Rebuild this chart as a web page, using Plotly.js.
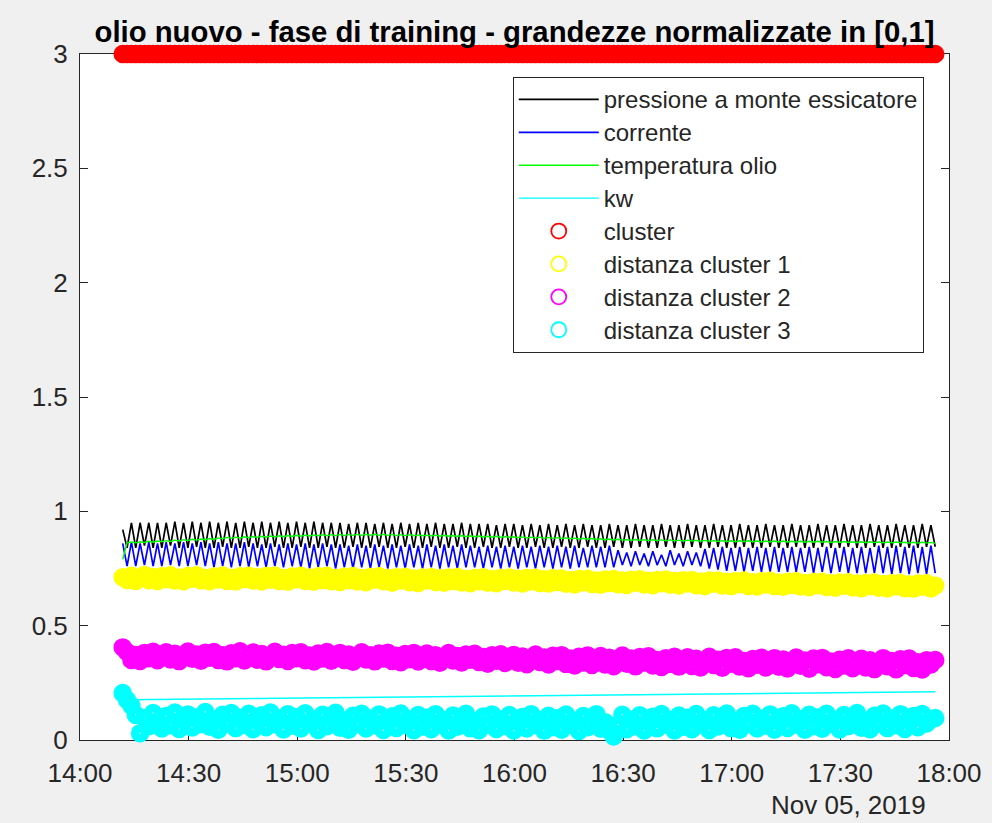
<!DOCTYPE html>
<html>
<head>
<meta charset="utf-8">
<script src="https://cdn.plot.ly/plotly-3.0.1.min.js"></script>
<style>html,body{margin:0;padding:0;background:#f0f0f0;}#chart{width:992px;height:823px;}</style>
</head>
<body>
<div id="chart"></div>
<script>
// sample times, minutes after 14:00 on Nov 05, 2019
const minutesAfter14 = [
11.8,13,14.2,15.4,16.6, 17.8,19,20.2,21.4,22.6,
23.8,25,26.2,27.4,28.6, 29.8,31,32.2,33.4,34.6,
35.8,37,38.2,39.4,40.6, 41.8,43,44.2,45.4,46.6,
47.8,49,50.2,51.4,52.6, 53.8,55,56.2,57.4,58.6,
59.8,61,62.2,63.4,64.6, 65.8,67,68.2,69.4,70.6,
71.8,73,74.2,75.4,76.6, 77.8,79,80.2,81.4,82.6,
83.8,85,86.2,87.4,88.6, 89.8,91,92.2,93.4,94.6,
95.8,97,98.2,99.4,100.6, 101.8,103,104.2,105.4,106.6,
107.8,109,110.2,111.4,112.6, 113.8,115,116.2,117.4,118.6,
119.8,121,122.2,123.4,124.6, 125.8,127,128.2,129.4,130.6,
131.8,133,134.2,135.4,136.6, 137.8,139,140.2,141.4,142.6,
143.8,145,146.2,147.4,148.6, 149.8,151,152.2,153.4,154.6,
155.8,157,158.2,159.4,160.6, 161.8,163,164.2,165.4,166.6,
167.8,169,170.2,171.4,172.6, 173.8,175,176.2,177.4,178.6,
179.8,181,182.2,183.4,184.6, 185.8,187,188.2,189.4,190.6,
191.8,193,194.2,195.4,196.6, 197.8,199,200.2,201.4,202.6,
203.8,205,206.2,207.4,208.6, 209.8,211,212.2,213.4,214.6,
215.8,217,218.2,219.4,220.6, 221.8,223,224.2,225.4,226.6,
227.8,229,230.2,231.4,232.6, 233.8,235,236.2
];

const pressione = [
0.92,0.84,0.95,0.84,0.95,0.85,0.95,0.84,0.95,0.84,
0.95,0.85,0.955,0.84,0.95,0.84,0.955,0.845,0.95,0.84,
0.955,0.84,0.95,0.845,0.955,0.84,0.95,0.84,0.955,0.845,
0.95,0.84,0.955,0.84,0.95,0.845,0.955,0.84,0.95,0.84,
0.955,0.845,0.95,0.84,0.955,0.84,0.95,0.845,0.95,0.84,
0.95,0.84,0.945,0.845,0.95,0.84,0.95,0.84,0.945,0.845,
0.95,0.84,0.945,0.84,0.95,0.845,0.945,0.84,0.95,0.84,
0.945,0.845,0.95,0.84,0.945,0.84,0.945,0.845,0.95,0.84,
0.945,0.84,0.945,0.845,0.945,0.84,0.94,0.84,0.945,0.845,
0.945,0.84,0.94,0.84,0.945,0.845,0.94,0.84,0.945,0.84,
0.94,0.845,0.945,0.84,0.94,0.84,0.945,0.845,0.94,0.84,
0.94,0.84,0.945,0.845,0.94,0.84,0.94,0.84,0.945,0.845,
0.94,0.84,0.94,0.84,0.945,0.845,0.94,0.84,0.94,0.84,
0.945,0.845,0.94,0.84,0.94,0.84,0.945,0.845,0.94,0.84,
0.94,0.84,0.945,0.845,0.94,0.84,0.94,0.84,0.945,0.845,
0.94,0.84,0.94,0.84,0.945,0.845,0.94,0.84,0.94,0.84,
0.945,0.845,0.94,0.84,0.94,0.84,0.945,0.845,0.94,0.84,
0.94,0.84,0.945,0.845,0.94,0.84,0.94,0.84,0.945,0.845,
0.94,0.84,0.94,0.84,0.945,0.845,0.94,0.845
];

const corrente = [
0.86,0.76,0.865,0.76,0.86,0.765,0.865,0.76,0.86,0.76,
0.865,0.765,0.86,0.76,0.865,0.76,0.86,0.765,0.865,0.76,
0.86,0.755,0.865,0.76,0.86,0.755,0.86,0.76,0.865,0.755,
0.86,0.76,0.855,0.755,0.86,0.76,0.855,0.755,0.86,0.76,
0.855,0.755,0.86,0.75,0.855,0.755,0.86,0.76,0.855,0.75,
0.855,0.755,0.85,0.75,0.855,0.755,0.85,0.75,0.855,0.755,
0.85,0.75,0.855,0.755,0.85,0.75,0.855,0.755,0.85,0.75,
0.855,0.755,0.85,0.75,0.855,0.755,0.85,0.75,0.855,0.755,
0.85,0.755,0.845,0.75,0.85,0.755,0.845,0.75,0.85,0.755,
0.845,0.75,0.85,0.755,0.845,0.75,0.85,0.755,0.845,0.75,
0.85,0.755,0.845,0.75,0.85,0.755,0.84,0.755,0.85,0.755,
0.845,0.755,0.85,0.755,0.83,0.765,0.82,0.76,0.825,0.765,
0.815,0.76,0.825,0.765,0.81,0.76,0.83,0.765,0.815,0.76,
0.825,0.765,0.82,0.76,0.835,0.75,0.84,0.745,0.845,0.74,
0.84,0.74,0.845,0.735,0.84,0.74,0.845,0.735,0.84,0.735,
0.845,0.735,0.84,0.735,0.845,0.735,0.84,0.735,0.845,0.73,
0.84,0.735,0.845,0.73,0.84,0.735,0.845,0.73,0.84,0.73,
0.845,0.73,0.84,0.73,0.85,0.73,0.845,0.725,0.85,0.73,
0.845,0.725,0.85,0.73,0.845,0.725,0.85,0.73
];

const temperaturaOlio = [
0.79,0.862,0.866,0.862,0.867,0.864,0.869,0.865,0.870,0.867,
0.872,0.868,0.874,0.870,0.876,0.872,0.878,0.874,0.879,0.876,
0.881,0.877,0.884,0.880,0.886,0.882,0.887,0.883,0.889,0.885,
0.890,0.886,0.891,0.887,0.892,0.888,0.893,0.889,0.894,0.890,
0.895,0.891,0.896,0.892,0.897,0.893,0.898,0.893,0.898,0.894,
0.899,0.894,0.899,0.895,0.899,0.895,0.900,0.895,0.900,0.895,
0.899,0.895,0.899,0.894,0.898,0.894,0.898,0.893,0.897,0.893,
0.896,0.892,0.896,0.891,0.895,0.891,0.894,0.890,0.894,0.889,
0.893,0.889,0.892,0.888,0.891,0.887,0.891,0.886,0.890,0.886,
0.889,0.885,0.888,0.884,0.887,0.883,0.887,0.882,0.886,0.882,
0.885,0.881,0.884,0.880,0.883,0.879,0.882,0.878,0.881,0.877,
0.880,0.876,0.879,0.875,0.878,0.874,0.877,0.873,0.877,0.873,
0.876,0.872,0.876,0.872,0.875,0.871,0.875,0.871,0.874,0.870,
0.874,0.870,0.873,0.869,0.873,0.869,0.872,0.868,0.872,0.868,
0.871,0.867,0.871,0.867,0.871,0.867,0.870,0.866,0.870,0.866,
0.870,0.866,0.870,0.866,0.869,0.865,0.869,0.865,0.869,0.865,
0.869,0.865,0.868,0.864,0.868,0.864,0.868,0.864,0.867,0.863,
0.867,0.863,0.867,0.863,0.866,0.862,0.866,0.862,0.866,0.862,
0.865,0.861,0.865,0.861,0.865,0.861,0.864,0.860
];

// kw: slow, almost straight trend
const kwMinutes = [13, 40, 70, 100, 130, 160, 190, 220, 236.2];
const kw = [0.176, 0.180, 0.184, 0.189, 0.193, 0.198, 0.203, 0.208, 0.211];

const cluster = [
3,3,3,3,3,3,3,3,3,3, 3,3,3,3,3,3,3,3,3,3,
3,3,3,3,3,3,3,3,3,3, 3,3,3,3,3,3,3,3,3,3,
3,3,3,3,3,3,3,3,3,3, 3,3,3,3,3,3,3,3,3,3,
3,3,3,3,3,3,3,3,3,3, 3,3,3,3,3,3,3,3,3,3,
3,3,3,3,3,3,3,3,3,3, 3,3,3,3,3,3,3,3,3,3,
3,3,3,3,3,3,3,3,3,3, 3,3,3,3,3,3,3,3,3,3,
3,3,3,3,3,3,3,3,3,3, 3,3,3,3,3,3,3,3,3,3,
3,3,3,3,3,3,3,3,3,3, 3,3,3,3,3,3,3,3,3,3,
3,3,3,3,3,3,3,3,3,3, 3,3,3,3,3,3,3,3,3,3,
3,3,3,3,3,3,3,3
];

const distanzaCluster1 = [
0.712,0.700,0.718,0.696,0.710,0.722,0.699,0.713,0.695,0.716,
0.703,0.720,0.697,0.711,0.694,0.717,0.705,0.721,0.698,0.709,
0.694,0.715,0.702,0.719,0.696,0.710,0.693,0.716,0.704,0.718,
0.697,0.712,0.693,0.717,0.701,0.719,0.695,0.709,0.692,0.715,
0.703,0.718,0.696,0.711,0.692,0.716,0.700,0.718,0.694,0.708,
0.691,0.714,0.699,0.717,0.693,0.709,0.690,0.713,0.701,0.716,
0.694,0.709,0.688,0.712,0.697,0.714,0.690,0.706,0.687,0.711,
0.698,0.713,0.691,0.707,0.688,0.711,0.695,0.713,0.689,0.704,
0.686,0.709,0.694,0.712,0.688,0.704,0.685,0.708,0.696,0.711,
0.689,0.705,0.684,0.709,0.693,0.710,0.687,0.703,0.684,0.707,
0.691,0.706,0.683,0.700,0.680,0.704,0.689,0.705,0.682,0.698,
0.679,0.702,0.687,0.704,0.681,0.697,0.678,0.701,0.688,0.703,
0.680,0.696,0.677,0.700,0.686,0.702,0.679,0.695,0.676,0.699,
0.684,0.700,0.677,0.693,0.674,0.697,0.683,0.698,0.676,0.692,
0.673,0.695,0.681,0.697,0.674,0.690,0.671,0.694,0.680,0.696,
0.673,0.689,0.670,0.692,0.678,0.694,0.671,0.687,0.668,0.691,
0.677,0.692,0.669,0.686,0.666,0.689,0.675,0.690,0.667,0.684,
0.664,0.687,0.673,0.689,0.666,0.682,0.663,0.686,0.672,0.687,
0.664,0.680,0.662,0.684,0.670,0.686,0.663,0.675
];

const distanzaCluster2 = [
0.405,0.385,0.350,0.372,0.346,0.381,0.358,0.386,0.349,0.370,
0.384,0.352,0.377,0.345,0.368,0.387,0.355,0.374,0.347,0.382,
0.360,0.385,0.350,0.371,0.344,0.379,0.357,0.388,0.348,0.369,
0.383,0.351,0.376,0.344,0.366,0.386,0.354,0.373,0.346,0.380,
0.358,0.384,0.349,0.370,0.343,0.378,0.356,0.385,0.347,0.368,
0.381,0.350,0.374,0.342,0.365,0.384,0.352,0.371,0.344,0.378,
0.356,0.382,0.346,0.368,0.340,0.376,0.353,0.381,0.343,0.365,
0.378,0.346,0.371,0.338,0.361,0.380,0.348,0.367,0.339,0.374,
0.351,0.377,0.341,0.363,0.334,0.371,0.347,0.375,0.337,0.358,
0.372,0.338,0.365,0.331,0.355,0.374,0.341,0.361,0.330,0.368,
0.345,0.371,0.333,0.356,0.326,0.364,0.339,0.370,0.328,0.351,
0.367,0.330,0.360,0.323,0.349,0.369,0.334,0.356,0.322,0.363,
0.339,0.366,0.326,0.350,0.319,0.358,0.333,0.364,0.321,0.345,
0.362,0.324,0.355,0.317,0.343,0.364,0.328,0.351,0.316,0.359,
0.334,0.362,0.321,0.346,0.314,0.354,0.329,0.360,0.317,0.341,
0.358,0.320,0.352,0.313,0.340,0.361,0.325,0.348,0.312,0.356,
0.331,0.359,0.318,0.343,0.311,0.351,0.326,0.357,0.314,0.338,
0.355,0.317,0.349,0.310,0.337,0.358,0.322,0.345,0.309,0.353,
0.328,0.356,0.315,0.340,0.308,0.349,0.330,0.350
];

const distanzaCluster3 = [
0.205,0.175,0.150,0.110,0.030,0.095,0.060,0.118,0.072,0.050,
0.105,0.065,0.120,0.048,0.088,0.112,0.055,0.098,0.070,0.122,
0.058,0.090,0.045,0.110,0.075,0.118,0.052,0.096,0.066,0.115,
0.047,0.085,0.108,0.056,0.120,0.070,0.092,0.046,0.113,0.062,
0.100,0.050,0.117,0.073,0.089,0.044,0.110,0.060,0.095,0.119,
0.054,0.082,0.045,0.106,0.071,0.115,0.050,0.093,0.064,0.112,
0.044,0.083,0.104,0.053,0.116,0.068,0.089,0.043,0.109,0.059,
0.097,0.047,0.113,0.070,0.086,0.042,0.107,0.058,0.092,0.115,
0.051,0.079,0.043,0.103,0.068,0.112,0.048,0.090,0.061,0.109,
0.042,0.080,0.101,0.050,0.113,0.066,0.087,0.041,0.106,0.057,
0.095,0.045,0.111,0.068,0.084,0.040,0.105,0.056,0.090,0.113,
0.049,0.078,0.042,0.015,0.067,0.110,0.047,0.089,0.060,0.108,
0.042,0.081,0.102,0.051,0.114,0.067,0.088,0.042,0.107,0.058,
0.097,0.047,0.114,0.070,0.087,0.044,0.108,0.059,0.093,0.116,
0.052,0.081,0.045,0.105,0.070,0.115,0.050,0.092,0.063,0.112,
0.045,0.083,0.104,0.053,0.117,0.068,0.090,0.045,0.110,0.060,
0.098,0.049,0.115,0.071,0.088,0.046,0.109,0.061,0.094,0.118,
0.054,0.083,0.047,0.106,0.072,0.116,0.052,0.094,0.065,0.113,
0.048,0.085,0.105,0.056,0.114,0.072,0.090,0.096
];

const xTickMinutes = [0, 30, 60, 90, 120, 150, 180, 210, 240];
const xTickLabels = ['14:00','14:30','15:00','15:30','16:00','16:30','17:00','17:30','18:00'];
const yTickVals = [0, 0.5, 1, 1.5, 2, 2.5, 3];
const yTickLabels = ['0','0.5','1','1.5','2','2.5','3'];

const seriesNames = ['pressione a monte essicatore','corrente','temperatura olio','kw',
  'cluster','distanza cluster 1','distanza cluster 2','distanza cluster 3'];
const seriesColors = ['#000000','#0000ff','#00ff00','#00ffff','#ff0000','#ffff00','#ff00ff','#00ffff'];

function toDate(m) {
  const ms = Date.UTC(2019, 10, 5, 14, 0, 0) + Math.round(m * 60000);
  return new Date(ms).toISOString().replace('T', ' ').slice(0, 19);
}
const time = minutesAfter14.map(toDate);
const kwTime = kwMinutes.map(toDate);

const FONT = 'Liberation Sans, Arial, Helvetica, sans-serif';
const INK = '#262626';
function legendName(s) { return '<span style="font-size:24px">' + s + '</span>'; }

function lineTrace(x, y, i, w) {
  return {type: 'scatter', mode: 'lines', x: x, y: y, name: legendName(seriesNames[i]),
    line: {color: seriesColors[i], width: w}, cliponaxis: false, hoverinfo: 'skip'};
}
// dense bands of open circles (drawn, not listed in the legend)
function ringBand(x, y, i) {
  return {type: 'scatter', mode: 'markers', x: x, y: y, name: seriesNames[i], cliponaxis: false,
    showlegend: false, legendgroup: 'g' + i,
    marker: {symbol: 'circle-open', size: 10, color: seriesColors[i],
      line: {color: seriesColors[i], width: 8.5}},
    hoverinfo: 'skip'};
}
// legend entry for each band: its first sample, drawn as a thin ring hidden inside the band
function ringLegend(x, y, i) {
  return {type: 'scatter', mode: 'markers', x: [x[0]], y: [y[0]], name: legendName(seriesNames[i]),
    cliponaxis: false, legendgroup: 'g' + i,
    marker: {symbol: 'circle-open', size: 15, color: seriesColors[i],
      line: {color: seriesColors[i], width: 1.8}},
    hoverinfo: 'skip'};
}

const bandSeries = [[time, cluster, 4], [time, distanzaCluster1, 5], [time, distanzaCluster2, 6], [time, distanzaCluster3, 7]];

const data = [
  lineTrace(time, pressione, 0, 1.7),
  lineTrace(time, corrente, 1, 1.7),
  lineTrace(time, temperaturaOlio, 2, 1.4),
  lineTrace(kwTime, kw, 3, 1.4)
].concat(bandSeries.map(b => ringBand(b[0], b[1], b[2])))
 .concat(bandSeries.map(b => ringLegend(b[0], b[1], b[2])));

const layout = {
  width: 992, height: 823,
  paper_bgcolor: '#f0f0f0', plot_bgcolor: '#ffffff',
  margin: {l: 80, r: 43, t: 54, b: 83, pad: 0},
  font: {family: FONT, color: INK, size: 26},
  title: {text: '<b>olio nuovo - fase di training - grandezze normalizzate in [0,1]</b>',
    font: {family: FONT, size: 29.3, color: '#000000'},
    x: 0.5, xref: 'paper', xanchor: 'center',
    y: 0.962, yref: 'container', yanchor: 'middle'},
  xaxis: {type: 'date',
    range: [toDate(0), toDate(240)],
    tickmode: 'array', tickvals: xTickMinutes.map(toDate), ticktext: xTickLabels,
    ticks: 'inside', ticklen: 8, tickwidth: 1, tickcolor: INK,
    showline: true, linecolor: INK, linewidth: 1, mirror: 'ticks',
    showgrid: false, zeroline: false, layer: 'below traces',
    tickfont: {family: FONT, size: 26, color: INK}, ticklabelstandoff: 10},
  yaxis: {range: [0, 3],
    tickmode: 'array', tickvals: yTickVals, ticktext: yTickLabels,
    ticks: 'inside', ticklen: 8, tickwidth: 1, tickcolor: INK,
    showline: true, linecolor: INK, linewidth: 1, mirror: 'ticks',
    showgrid: false, zeroline: false, layer: 'below traces',
    tickfont: {family: FONT, size: 26, color: INK}, ticklabelstandoff: 6},
  legend: {x: 0.498, y: 0.9665, xanchor: 'left', yanchor: 'top',
    bgcolor: '#ffffff', bordercolor: INK, borderwidth: 1,
    font: {family: FONT, size: 23.0, color: INK},
    itemwidth: 80, tracegroupgap: 0, traceorder: 'normal'},
  annotations: [{text: 'Nov 05, 2019', xref: 'paper', yref: 'paper',
    x: 0.884, y: 0, xanchor: 'center', yanchor: 'middle', yshift: -65,
    showarrow: false, font: {family: FONT, size: 26, color: INK}}],
  showlegend: true
};

Plotly.newPlot('chart', data, layout, {displayModeBar: false, staticPlot: true});
</script>
</body>
</html>
